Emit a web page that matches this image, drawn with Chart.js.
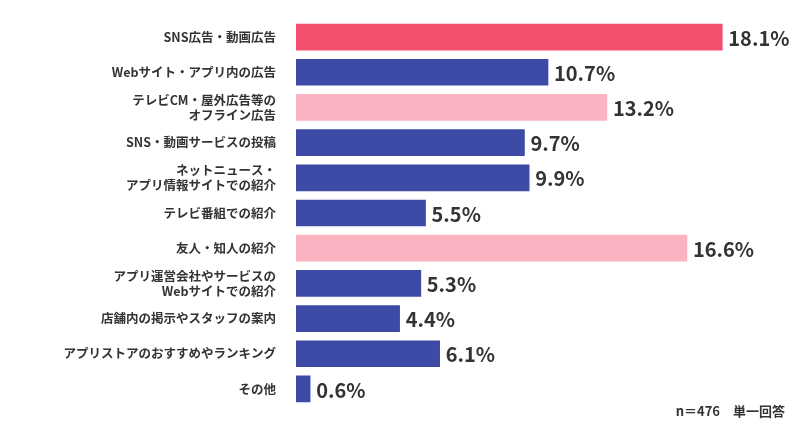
<!DOCTYPE html>
<html><head><meta charset="utf-8">
<script src="https://cdn.jsdelivr.net/npm/chart.js@4"></script>
<style>html,body{margin:0;padding:0;background:#fff}#w{position:relative;width:800px;height:426px}</style>
</head><body><div id="w"><canvas id="c"></canvas></div>
<script>
const categories = [
  "SNS広告・動画広告",
  "Webサイト・アプリ内の広告",
  ["テレビCM・屋外広告等の","オフライン広告"],
  "SNS・動画サービスの投稿",
  ["ネットニュース・","アプリ情報サイトでの紹介"],
  "テレビ番組での紹介",
  "友人・知人の紹介",
  ["アプリ運営会社やサービスの","Webサイトでの紹介"],
  "店舗内の掲示やスタッフの案内",
  "アプリストアのおすすめやランキング",
  "その他"
];
const values = [18.1, 10.7, 13.2, 9.7, 9.9, 5.5, 16.6, 5.3, 4.4, 6.1, 0.6];
const barColors = ["#F2506E","#3D4BA6","#F9B3C1","#3D4BA6","#3D4BA6","#3D4BA6","#F9B3C1","#3D4BA6","#3D4BA6","#3D4BA6","#3D4BA6"];
const note = "n＝476　単一回答";
const FONT = "'Noto Sans CJK JP','Noto Sans',sans-serif";

const valueLabels = {
  id:'valueLabels',
  afterDatasetsDraw(chart){
    const ctx = chart.ctx;
    const meta = chart.getDatasetMeta(0);
    ctx.save();
    ctx.fillStyle = '#333';
    ctx.font = "bold 20px " + FONT;
    ctx.textBaseline = 'middle';
    meta.data.forEach((b,i)=>{ ctx.fillText(values[i].toFixed(1)+'%', b.x+6, b.y+1); });
    ctx.font = "bold 13px " + FONT;
    ctx.textAlign = 'right';
    ctx.fillText(note, 785, 411);
    ctx.restore();
  }
};

new Chart(document.getElementById('c'), {
  type:'bar',
  data:{labels:categories, datasets:[{data:values, backgroundColor:barColors, barThickness:26}]},
  options:{
    indexAxis:'y', responsive:true, maintainAspectRatio:false, animation:false,
    layout:{padding:{top:8,bottom:3,left:0,right:0}},
    plugins:{legend:{display:false}, tooltip:{enabled:false}},
    scales:{
      x:{min:0,max:21.4,display:false},
      y:{grid:{display:false}, border:{display:false},
         afterFit(s){ s.width = 296; },
         ticks:{color:'#333', font:{family:FONT, size:12.5, weight:'bold'}, padding:12, autoSkip:false}}
    }
  },
  plugins:[valueLabels]
});
</script></body></html>
